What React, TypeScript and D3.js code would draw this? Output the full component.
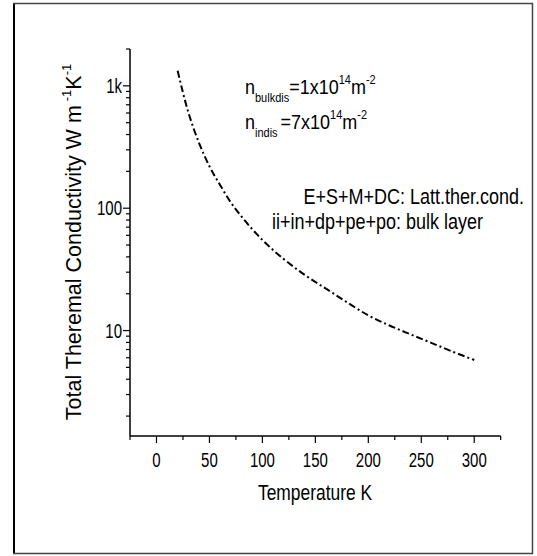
import React from "react";
import * as d3 from "d3";

const temperatures = [20, 25, 30, 35, 40, 50, 60, 70, 80, 90, 100, 120, 140, 160, 180, 200, 220, 240, 260, 280, 300];
const conductivity = [1330, 880, 610, 450, 345, 220, 155, 112, 86, 68, 55, 38.5, 28.5, 22, 17, 13.3, 11, 9.3, 7.9, 6.7, 5.75];
const xMajorTicks = [0, 50, 100, 150, 200, 250, 300];
const xMinorTicks = [-25, 25, 75, 125, 175, 225, 275, 325];
const yMajorTicks = [10, 100, 1000];
const yTickLabels = ["10", "100", "1k"];
const xDomain = [-25, 325];
const yDomain = [1.375, 2000];

const W = 537;
const H = 556;
const left = 130;
const right = 500.7;
const top = 49;
const bottom = 436;
const FONT = "'Liberation Sans', Arial, sans-serif";

function Tall({ x, y, sy, children }: { x: number; y: number; sy: number; children: React.ReactNode }) {
  return <g transform={`translate(${x},${y}) scale(1,${sy})`}>{children}</g>;
}

export default function App() {
  const x = d3.scaleLinear().domain(xDomain).range([left, right]);
  const y = d3.scaleLog().domain(yDomain).range([bottom, top]);

  const yMinor: number[] = [];
  for (const dec of [1, 10, 100, 1000]) {
    for (let k = 2; k <= 9; k++) {
      const v = k * dec;
      if (v >= yDomain[0] && v <= yDomain[1]) yMinor.push(v);
    }
  }

  const pts = temperatures.map((t, i) => [t, conductivity[i]] as [number, number]);
  const line = d3
    .line<[number, number]>()
    .x((d) => x(d[0]))
    .y((d) => y(d[1]))
    .curve(d3.curveMonotoneX);

  return (
    <svg width={W} height={H} style={{ position: "absolute", left: 0, top: 0 }} fontFamily={FONT}>
      <rect x={0} y={0} width={W} height={H} fill="#fff" />
      {/* frame */}
      <line x1={14} y1={3} x2={14} y2={554} stroke="#000" strokeWidth={2} />
      <line x1={13} y1={3.5} x2={533} y2={3.5} stroke="#444" strokeWidth={1.5} />
      <line x1={13} y1={553.5} x2={533} y2={553.5} stroke="#444" strokeWidth={1.5} />
      <line x1={532.5} y1={3} x2={532.5} y2={554} stroke="#444" strokeWidth={1.5} />

      {/* axes */}
      <line x1={left} y1={top} x2={left} y2={bottom} stroke="#000" strokeWidth={1.5} />
      <line x1={left} y1={bottom} x2={right} y2={bottom} stroke="#000" strokeWidth={1.5} />

      {xMajorTicks.map((t) => (
        <g key={"xm" + t}>
          <line x1={x(t)} x2={x(t)} y1={bottom} y2={bottom + 7} stroke="#000" strokeWidth={1.2} />
          <Tall x={x(t)} y={467} sy={1.3}>
            <text textAnchor="middle" fontSize={15}>
              {t}
            </text>
          </Tall>
        </g>
      ))}
      {xMinorTicks.map((t) => (
        <line key={"xn" + t} x1={x(t)} x2={x(t)} y1={bottom} y2={bottom + 4} stroke="#000" strokeWidth={1.2} />
      ))}

      {yMajorTicks.map((t, i) => (
        <g key={"ym" + t}>
          <line x1={left - 7} x2={left} y1={y(t)} y2={y(t)} stroke="#000" strokeWidth={1.2} />
          <Tall x={122} y={y(t) + 7} sy={1.3}>
            <text textAnchor="end" fontSize={15}>
              {yTickLabels[i]}
            </text>
          </Tall>
        </g>
      ))}
      {yMinor.map((t) => (
        <line key={"yn" + t} x1={left - 4} x2={left} y1={y(t)} y2={y(t)} stroke="#000" strokeWidth={1.2} />
      ))}

      {/* curve */}
      <path d={line(pts) || ""} fill="none" stroke="#000" strokeWidth={2} strokeDasharray="7,3,2,3" />

      {/* axis titles */}
      <Tall x={315} y={500} sy={1.25}>
        <text textAnchor="middle" fontSize={17.4}>
          Temperature K
        </text>
      </Tall>
      <text transform="translate(81,242) rotate(-90)" textAnchor="middle" fontSize={21.5}>
        Total Theremal Conductivity W m
        <tspan fontSize={13} dy={-10} dx={4}>-1</tspan>
        <tspan dy={10}>K</tspan>
        <tspan fontSize={13} dy={-10}>-1</tspan>
      </text>

      {/* annotations */}
      <Tall x={245} y={94} sy={1.15}>
        <text fontSize={18}>
          n<tspan fontSize={11} dy={7}>bulkdis</tspan>
          <tspan dy={-7}>=1x10</tspan>
          <tspan fontSize={11} dy={-9}>14</tspan>
          <tspan dy={9}>m</tspan>
          <tspan fontSize={11} dy={-9}>-2</tspan>
        </text>
      </Tall>
      <Tall x={245} y={129} sy={1.15}>
        <text fontSize={18}>
          n<tspan fontSize={11} dy={7}>indis</tspan>
          <tspan dy={-7} dx={3}>=7x10</tspan>
          <tspan fontSize={11} dy={-9}>14</tspan>
          <tspan dy={9}>m</tspan>
          <tspan fontSize={11} dy={-9}>-2</tspan>
        </text>
      </Tall>
      <Tall x={524} y={204} sy={1.2}>
        <text textAnchor="end" fontSize={18}>
          E+S+M+DC: Latt.ther.cond.
        </text>
      </Tall>
      <Tall x={272} y={229} sy={1.2}>
        <text fontSize={18}>ii+in+dp+pe+po: bulk layer</text>
      </Tall>
    </svg>
  );
}
